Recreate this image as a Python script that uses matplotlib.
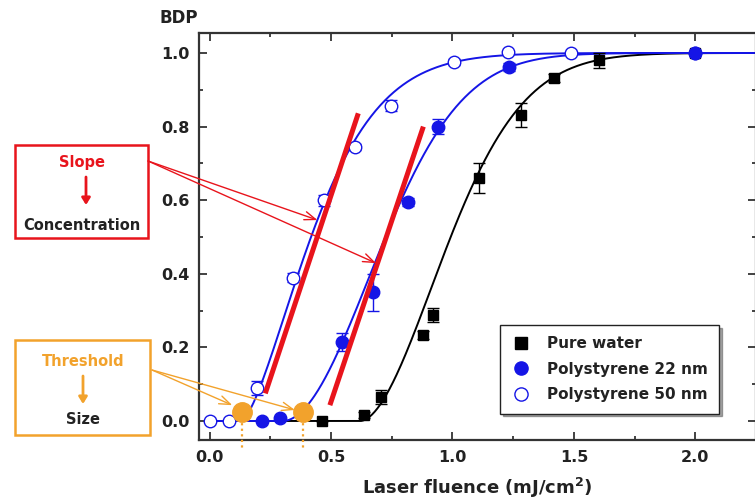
import numpy as np
import matplotlib
matplotlib.use("Agg")
import matplotlib.pyplot as plt
from matplotlib.patches import Rectangle
from matplotlib.lines import Line2D

plt.rcParams['font.family'] = ['DejaVu Sans']
plt.rcParams['font.weight'] = 'bold'
plt.rcParams['mathtext.default'] = 'bf'

# ---------------- data ----------------
water_x = [0.464, 0.637, 0.706, 0.879, 0.919, 1.109, 1.282, 1.419, 1.605, 2.0]
water_y = [0.0, 0.016, 0.065, 0.234, 0.288, 0.66, 0.831, 0.932, 0.98, 1.0]
water_err = [0.0, 0.008, 0.02, 0.01, 0.02, 0.04, 0.032, 0.01, 0.02, 0.0]

ps22_x = [0.214, 0.29, 0.544, 0.673, 0.818, 0.94, 1.234, 2.0]
ps22_y = [0.0, 0.008, 0.215, 0.35, 0.595, 0.80, 0.962, 1.0]
ps22_err = [0.0, 0.0, 0.025, 0.05, 0.01, 0.02, 0.01, 0.0]

ps50_x = [0.0, 0.08, 0.195, 0.343, 0.472, 0.597, 0.746, 1.008, 1.23, 1.488, 2.0]
ps50_y = [0.0, 0.0, 0.09, 0.389, 0.60, 0.745, 0.856, 0.976, 1.003, 1.0, 1.0]
ps50_err = [0.0, 0.0, 0.02, 0.012, 0.015, 0.008, 0.015, 0.008, 0.0, 0.0, 0.0]

# fitted threshold curves: BDP = 1 - exp(-k (F - F0)^p)
fit_water = dict(F0=0.62, k=4.1, p=1.8)
fit_ps22 = dict(F0=0.30, k=3.7, p=1.95)
fit_ps50 = dict(F0=0.13, k=4.5, p=1.5)

# slope lines (x pair, y pair) and threshold points
slope1 = ([0.229, 0.612], [0.075, 0.836])
slope2 = ([0.495, 0.880], [0.043, 0.800])
thresh_x = [0.134, 0.383]
thresh_y = [0.025, 0.025]

xticks = [0.0, 0.5, 1.0, 1.5, 2.0]
yticks = [0.0, 0.2, 0.4, 0.6, 0.8, 1.0]
labels = ['Pure water', 'Polystyrene 22 nm', 'Polystyrene 50 nm']

BLUE = '#1515e6'
RED = '#e8141c'
ORANGE = '#f2a22c'
W, H = 755, 504

def fit_curve(F, F0, k, p):
    d = np.clip(F - F0, 0, None)
    return 1 - np.exp(-k * d ** p)

fig = plt.figure(figsize=(W / 100, H / 100), dpi=100)
ax = fig.add_axes([199 / W, 1 - 440 / H, 557 / W, 407 / H])
ax.set_xlim(-0.044, 2.2016)
ax.set_ylim(-0.0516, 1.0543)

Fx = np.linspace(0, 2.25, 600)
ax.plot(Fx, fit_curve(Fx, **fit_water), color='black', lw=1.4, zorder=2)
ax.plot(Fx, fit_curve(Fx, **fit_ps22), color=BLUE, lw=1.4, zorder=2)
ax.plot(Fx, fit_curve(Fx, **fit_ps50), color=BLUE, lw=1.4, zorder=2)

ax.errorbar(water_x, water_y, yerr=water_err, fmt='s', color='black', ms=7.5,
            capsize=4, elinewidth=1, capthick=1, zorder=4)
ax.errorbar(ps22_x, ps22_y, yerr=ps22_err, fmt='o', color=BLUE, ms=9,
            capsize=4, elinewidth=1, capthick=1, zorder=4)
ax.errorbar(ps50_x, ps50_y, yerr=ps50_err, fmt='o', color=BLUE, ms=9,
            mfc='white', mec=BLUE, mew=1.0, capsize=4, elinewidth=1,
            capthick=1, zorder=3)

# red slope lines
ax.plot(*slope1, color=RED, lw=3.6, solid_capstyle='butt', zorder=5)
ax.plot(*slope2, color=RED, lw=3.6, solid_capstyle='butt', zorder=5)

# threshold points with dotted drop lines
for tx, ty in zip(thresh_x, thresh_y):
    ax.plot([tx, tx], [ty, -0.075], color=ORANGE, lw=1.6, ls=(0, (1, 1.5)),
            clip_on=False, zorder=5)
ax.plot(thresh_x, thresh_y, 'o', color=ORANGE, ms=14, zorder=6, clip_on=False)

# ticks / spines
ax.set_xticks(xticks)
ax.set_xticklabels([f'{v:.1f}' for v in xticks])
ax.set_yticks(yticks)
ax.set_yticklabels([f'{v:.1f}' for v in yticks])
ax.set_xticks(np.arange(0, 2.3, 0.25), minor=True)
ax.set_yticks(np.arange(0, 1.05, 0.1), minor=True)
ax.tick_params(which='both', direction='in', top=True, right=True,
               labelsize=11.5, colors='#222222', width=1.2, pad=7)
ax.tick_params(which='major', length=6)
ax.tick_params(which='minor', length=3)
for s in ax.spines.values():
    s.set_linewidth(1.6)
    s.set_color('#333333')
for lab in ax.get_xticklabels() + ax.get_yticklabels():
    lab.set_fontweight('bold')

ax.set_xlabel('Laser fluence (mJ/cm$^\\mathbf{2}$)', fontsize=13,
              fontweight='bold', labelpad=8, color='#222222')
fig.text(179 / W, 1 - 18 / H, 'BDP', fontsize=12, fontweight='bold',
         ha='center', va='center', color='#222222')

handles = [
    Line2D([], [], ls='none', marker='s', ms=8.5, color='black'),
    Line2D([], [], ls='none', marker='o', ms=9.5, color=BLUE),
    Line2D([], [], ls='none', marker='o', ms=9.5, mfc='white', mec=BLUE, mew=1.0),
]
leg = ax.legend(handles, labels, loc='upper left',
                bbox_to_anchor=((500 - 199) / 557, 1 - (325 - 33) / 407),
                frameon=True, fancybox=False, shadow=True, fontsize=11,
                handletextpad=1.0, borderpad=0.75, labelspacing=0.68,
                handlelength=1.3, borderaxespad=0)
leg.get_frame().set_edgecolor('#222222')
leg.get_frame().set_linewidth(1.0)
for t in leg.get_texts():
    t.set_color('#222222')

# annotation boxes
def fx(x):
    return x / W

def fy(y):
    return 1 - y / H

fig.add_artist(Rectangle((fx(15), fy(238)), fx(133), 93 / H, transform=fig.transFigure,
                         fill=False, edgecolor=RED, lw=1.8))
fig.text(fx(82), fy(163), 'Slope', color=RED, fontsize=10.5, fontweight='bold',
         ha='center', va='center')
fig.text(fx(82), fy(225), 'Concentration', color='#222222', fontsize=10.5,
         fontweight='bold', ha='center', va='center')
ax.annotate('', xy=(86, H - 205), xycoords='figure pixels', xytext=(86, H - 177),
            textcoords='figure pixels',
            arrowprops=dict(arrowstyle='-|>,head_width=0.25,head_length=0.4',
                            color=RED, lw=2, shrinkA=0, shrinkB=0))

fig.add_artist(Rectangle((fx(15), fy(435)), fx(135), 95 / H, transform=fig.transFigure,
                         fill=False, edgecolor=ORANGE, lw=1.8))
fig.text(fx(83), fy(362), 'Threshold', color=ORANGE, fontsize=10.5,
         fontweight='bold', ha='center', va='center')
fig.text(fx(83), fy(420), 'Size', color='#222222', fontsize=10.5,
         fontweight='bold', ha='center', va='center')
ax.annotate('', xy=(83, H - 404), xycoords='figure pixels', xytext=(83, H - 376),
            textcoords='figure pixels',
            arrowprops=dict(arrowstyle='-|>,head_width=0.25,head_length=0.4',
                            color=ORANGE, lw=2, shrinkA=0, shrinkB=0))

# pointer arrows
for tip in [(0.444, 0.546), (0.685, 0.429)]:
    ax.annotate('', xy=tip, xycoords='data', xytext=(148, H - 161),
                textcoords='figure pixels',
                arrowprops=dict(arrowstyle='->,head_width=0.3,head_length=0.8',
                                color=RED, lw=1.0, shrinkA=0, shrinkB=0), zorder=7)
for tip in [(0.093, 0.043), (0.351, 0.030)]:
    ax.annotate('', xy=tip, xycoords='data', xytext=(152, H - 370),
                textcoords='figure pixels',
                arrowprops=dict(arrowstyle='->,head_width=0.3,head_length=0.8',
                                color=ORANGE, lw=1.0, shrinkA=0, shrinkB=0), zorder=7)

fig.savefig('out.png', dpi=100)
